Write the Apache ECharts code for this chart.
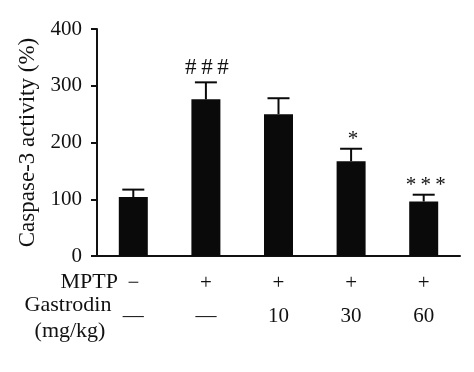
<!DOCTYPE html>
<html><head><meta charset="utf-8">
<script src="https://cdn.jsdelivr.net/npm/echarts@6/dist/echarts.min.js"></script>
<style>html,body{margin:0;padding:0;background:#fff}#c{width:474px;height:372px}</style>
</head><body><div id="c"></div>
<script>
var categories = ['G1','G2','G3','G4','G5'];
var mptpLabels = ['\u2212','+','+','+','+'];
var gastrodinLabels = ['\u2014','\u2014','10','30','60'];
var means = [104, 276, 250, 167, 96];
var errors = [13, 30, 28, 22, 12];
var marks = ['', '###', '', '*', '***'];
var yTicks = [0, 100, 200, 300, 400];

var FONT = 'Liberation Serif';
var chart = echarts.init(document.getElementById('c'));
chart.setOption({
  animation: false,
  grid: {left: 97, top: 29, width: 363, height: 227},
  xAxis: {
    type: 'category', data: categories,
    axisLine: {lineStyle: {color: '#111', width: 2}},
    axisTick: {alignWithLabel: true, length: 6, lineStyle: {color: '#111', width: 2}},
    axisLabel: {
      margin: 11, interval: 0,
      formatter: function (v, i) { return '{a|' + mptpLabels[i] + '}\n{b|' + gastrodinLabels[i] + '}'; },
      rich: {
        a: {fontFamily: FONT, fontSize: 21, color: '#111', lineHeight: 33},
        b: {fontFamily: FONT, fontSize: 21, color: '#111', lineHeight: 33}
      }
    }
  },
  yAxis: {
    type: 'value', min: 0, max: 400, interval: 100,
    name: 'Caspase-3 activity (%)', nameLocation: 'middle', nameGap: 52,
    nameTextStyle: {fontFamily: FONT, fontSize: 23, color: '#111'},
    axisLine: {show: true, lineStyle: {color: '#111', width: 2}},
    axisTick: {show: true, length: 6, lineStyle: {color: '#111', width: 2}},
    axisLabel: {fontFamily: FONT, fontSize: 21, color: '#111', margin: 15,
      formatter: function (v) { return yTicks.indexOf(v) >= 0 ? String(v) : ''; }},
    splitLine: {show: false}
  },
  series: [
    {type: 'bar', data: means, barWidth: 29, itemStyle: {color: '#0a0a0a'}, z: 2},
    {type: 'custom', z: 3,
      data: means.map(function (m, i) { return [i, m, errors[i]]; }),
      renderItem: function (params, api) {
        var i = api.value(0), m = api.value(1), e = api.value(2);
        var base = api.coord([i, m]);
        var top = api.coord([i, m + e]);
        var half = 11;
        var children = [
          {type: 'line', shape: {x1: base[0], y1: base[1], x2: top[0], y2: top[1]}, style: {stroke: '#0a0a0a', lineWidth: 2}},
          {type: 'line', shape: {x1: top[0] - half, y1: top[1], x2: top[0] + half, y2: top[1]}, style: {stroke: '#0a0a0a', lineWidth: 2}}
        ];
        var t = marks[i];
        if (t) {
          var isStar = t.charAt(0) === '*';
          children.push({type: 'text', style: {
            text: t.split('').join('\u2009'), x: top[0] + (isStar ? 2 : 1), y: top[1] - (isStar ? -1 : 3),
            align: 'center', verticalAlign: 'bottom',
            font: (isStar ? '21px ' : '23px ') + FONT, fill: '#111'
          }});
        }
        return {type: 'group', children: children};
      }
    }
  ],
  graphic: [
    {type: 'text', style: {text: 'MPTP', x: 118, y: 282, align: 'right', verticalAlign: 'middle', font: '22px ' + FONT, fill: '#111'}},
    {type: 'text', style: {text: 'Gastrodin', x: 68, y: 305, align: 'center', verticalAlign: 'middle', font: '22px ' + FONT, fill: '#111'}},
    {type: 'text', style: {text: '(mg/kg)', x: 70, y: 331, align: 'center', verticalAlign: 'middle', font: '22px ' + FONT, fill: '#111'}}
  ]
});
</script></body></html>
